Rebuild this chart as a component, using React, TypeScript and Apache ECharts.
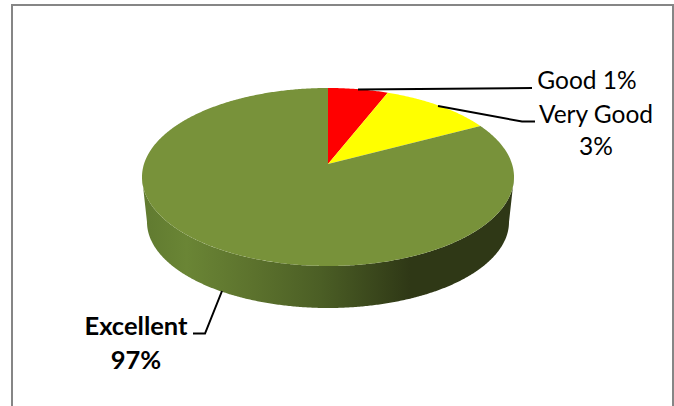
import React, { useEffect, useRef } from "react";
import * as echarts from "echarts";

const categories = ["Good", "Very Good", "Excellent"];
const percentLabels = ["1%", "3%", "97%"];
// Share of the drawn circle each slice takes (%)
const sliceShares = [5.2, 10.1, 84.7];
const sliceColors = ["#ff0000", "#ffff00", "#78923a"];

const FONT = "Lato, 'Open Sans', sans-serif";
const TOP = { cx: 328, cy: 177, rx: 186, ry: 89, apexY: 164 };
const BOTTOM = { cx: 328, cy: 222, rx: 181, ry: 86 };

const rim = (e: { cx: number; cy: number; rx: number; ry: number }, deg: number) => {
  const t = (deg * Math.PI) / 180;
  return [e.cx + e.rx * Math.sin(t), e.cy - e.ry * Math.cos(t)];
};

const arcPoints = (e: any, from: number, to: number) => {
  const pts: number[][] = [];
  const n = Math.max(2, Math.ceil((to - from) * 2));
  for (let i = 0; i <= n; i++) pts.push(rim(e, from + ((to - from) * i) / n));
  return pts;
};

const total = sliceShares.reduce((a, b) => a + b, 0);

const renderSlice = (params: any, api: any) => {
  const i = params.dataIndex;
  let before = 0;
  for (let k = 0; k < i; k++) before += sliceShares[k];
  const from = (before / total) * 360;
  const to = from + (api.value(0) / total) * 360;
  const children: any[] = [];

  const wFrom = Math.max(from, 90);
  const wTo = Math.min(to, 270);
  if (wTo > wFrom) {
    const outer = arcPoints(TOP, wFrom, wTo);
    const lower = arcPoints(BOTTOM, wFrom, wTo).reverse();
    children.push({
      type: "polygon",
      shape: { points: outer.concat(lower) },
      style: {
        fill: new echarts.graphic.LinearGradient(0, 0, 1, 0, [
          { offset: 0, color: "#607a30" },
          { offset: 0.12, color: "#6a8535" },
          { offset: 0.3, color: "#5c722d" },
          { offset: 0.48, color: "#4b5e25" },
          { offset: 0.72, color: "#2f3816" },
          { offset: 1, color: "#2f3816" },
        ]),
      },
    });
  }

  const top = [[TOP.cx, TOP.apexY]].concat(arcPoints(TOP, from, to));
  children.push({
    type: "polygon",
    shape: { points: top },
    style: { fill: sliceColors[i] },
  });
  return { type: "group", children };
};

const labelStyle = (text: string, bold = false) => ({
  text,
  fill: "#000000",
  fontFamily: FONT,
  fontSize: bold ? 25.5 : 24.5,
  fontWeight: bold ? "bold" : "normal",
  lineHeight: bold ? 34 : 32,
  align: "center",
  verticalAlign: "middle",
});

const leader = (points: number[][]) => ({
  type: "polyline",
  z: 10,
  shape: { points },
  style: { stroke: "#000000", lineWidth: 2, fill: "none" },
});

export default function App() {
  const ref = useRef<HTMLDivElement>(null);
  useEffect(() => {
    const chart = echarts.init(ref.current!, null, { renderer: "svg" });
    chart.setOption({
      animation: false,
      backgroundColor: "#ffffff",
      series: [
        {
          type: "custom",
          coordinateSystem: "none",
          silent: true,
          data: sliceShares.map((v, i) => ({ name: categories[i], value: [v] })),
          renderItem: renderSlice,
        },
      ],
      graphic: [
        {
          type: "rect",
          shape: { x: 12, y: 5, width: 661, height: 420 },
          style: { fill: "none", stroke: "#868686", lineWidth: 2 },
        },
        leader([[358, 89.5], [532, 88]]),
        leader([[438, 106], [522, 121.5], [535, 121.5]]),
        leader([[222, 291], [205, 333.5], [193, 333.5]]),
        {
          type: "text",
          x: 587,
          y: 79,
          style: labelStyle(`${categories[0]} ${percentLabels[0]}`),
        },
        {
          type: "text",
          x: 596,
          y: 129,
          style: labelStyle(`${categories[1]}\n${percentLabels[1]}`),
        },
        {
          type: "text",
          x: 136,
          y: 342,
          style: labelStyle(`${categories[2]}\n${percentLabels[2]}`, true),
        },
      ],
    });
    return () => chart.dispose();
  }, []);
  return (
    <div
      ref={ref}
      style={{ position: "fixed", left: 0, top: 0, width: 674, height: 406 }}
    />
  );
}
